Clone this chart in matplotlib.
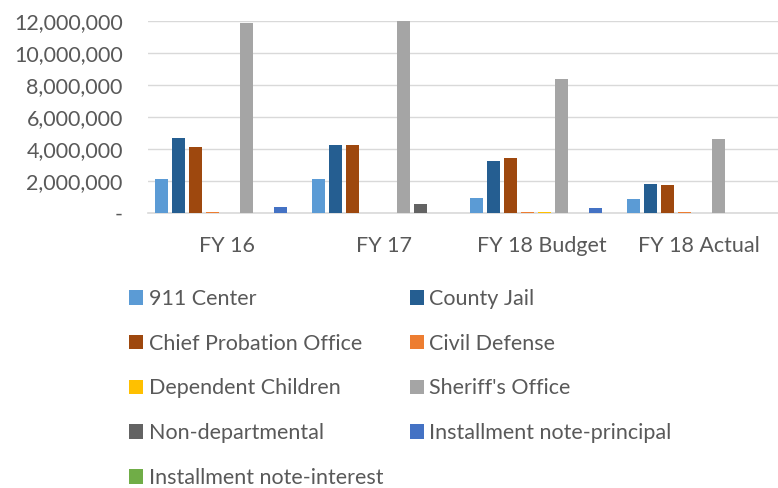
import numpy as np
from matplotlib import pyplot as plt
from matplotlib.ticker import FuncFormatter
import matplotlib
matplotlib.rcParams['font.family'] = ['Lato', 'DejaVu Sans']

categories = ['FY 16', 'FY 17', 'FY 18 Budget', 'FY 18 Actual']
series = ['911 Center', 'County Jail', 'Chief Probation Office', 'Civil Defense',
          'Dependent Children', "Sheriff's Office", 'Non-departmental',
          'Installment note-principal', 'Installment note-interest']

center_911 = [2150000, 2100000, 950000, 870000]
county_jail = [4700000, 4270000, 3250000, 1830000]
chief_probation = [4120000, 4270000, 3460000, 1750000]
civil_defense = [60000, 0, 70000, 40000]
dependent_children = [0, 0, 60000, 0]
sheriff = [11850000, 12000000, 8400000, 4620000]
non_departmental = [0, 550000, 0, 0]
install_principal = [370000, 0, 290000, 0]
install_interest = [0, 0, 0, 0]

values = [center_911, county_jail, chief_probation, civil_defense, dependent_children,
          sheriff, non_departmental, install_principal, install_interest]
colors = ['#5B9BD5', '#255E91', '#9E480E', '#ED7D31', '#FFC000',
          '#A5A5A5', '#636363', '#4472C4', '#70AD47']

fig = plt.figure(figsize=(7.78, 4.88), dpi=100)
ax = fig.add_axes([0.19, 0.5635, 0.81, 0.3935])

x = np.arange(len(categories))
step = 17 / 157.5
width = 13 / 157.5
bars = []
for i, (vals, c) in enumerate(zip(values, colors)):
    b = ax.bar(x + (i - 3.85) * step, vals, width, color=c, label=series[i], zorder=3)
    bars.append(b)

ax.set_xlim(-0.5, 3.5)
ax.set_ylim(0, 12000000)
ax.set_yticks(np.arange(0, 12000001, 2000000))
ax.yaxis.set_major_formatter(FuncFormatter(lambda v, p: '-' if v == 0 else f'{int(v):,}'))
ax.set_xticks(x)
ax.set_xticklabels(categories)
ax.grid(axis='y', color='#D9D9D9', linewidth=1, zorder=0)
for s in ['top', 'right', 'left']:
    ax.spines[s].set_visible(False)
ax.spines['bottom'].set_color('#D9D9D9')
ax.spines['bottom'].set_linewidth(1.2)
ax.tick_params(length=0, labelsize=15.5, colors='#595959')
ax.tick_params(axis='x', pad=16.5)
ax.tick_params(axis='y', pad=18)

order = [0, 2, 4, 6, 8, 1, 3, 5, 7]
leg = fig.legend([bars[i] for i in order], [series[i] for i in order],
                 loc='upper left', bbox_to_anchor=(0.166, 0.408), ncol=2, frameon=False,
                 fontsize=15.5, labelcolor='#595959', handlelength=0.65, handleheight=0.65,
                 handletextpad=0.25, labelspacing=1.15, columnspacing=1.25,
                 borderaxespad=0, borderpad=0)

plt.savefig('out.png', dpi=100)
